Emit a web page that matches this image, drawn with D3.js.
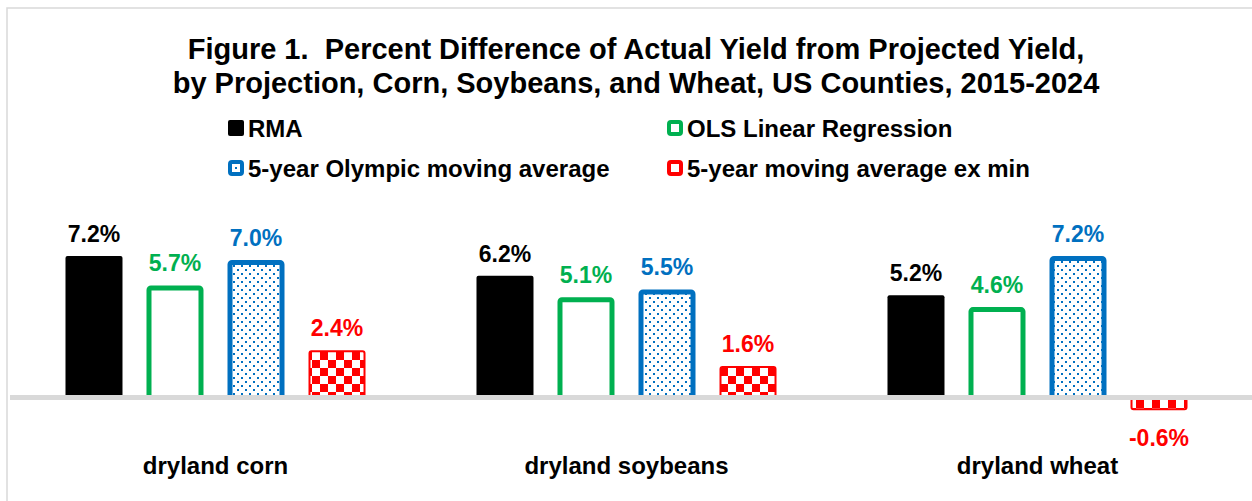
<!DOCTYPE html>
<html>
<head>
<meta charset="utf-8">
<script src="https://cdn.jsdelivr.net/npm/d3@7"></script>
<style>
  body { margin: 0; background: #fff; }
  svg text { font-family: Arial, "Liberation Sans", sans-serif; font-weight: bold; white-space: pre; }
</style>
</head>
<body>
<svg id="chart" width="1252" height="501"></svg>
<script>
// data
var categories = ["dryland corn", "dryland soybeans", "dryland wheat"];
var series = ["RMA", "OLS Linear Regression", "5-year Olympic moving average", "5-year moving average ex min"];
var rmaValues = [7.2, 6.2, 5.2];
var olsValues = [5.7, 5.1, 4.6];
var olympicValues = [7.0, 5.5, 7.2];
var exMinValues = [2.4, 1.6, -0.6];
var titleLines = ["Figure 1.  Percent Difference of Actual Yield from Projected Yield,",
                  "by Projection, Corn, Soybeans, and Wheat, US Counties, 2015-2024"];

var allValues = [rmaValues, olsValues, olympicValues, exMinValues];
var colors = ["#000000", "#00b050", "#0070c0", "#ff0000"];

var svg = d3.select("#chart");
var W = 1252, H = 501;

// pattern defs
var defs = svg.append("defs");
var dots = defs.append("pattern").attr("id", "dots")
    .attr("patternUnits", "userSpaceOnUse").attr("width", 8).attr("height", 8);
dots.append("rect").attr("width", 8).attr("height", 8).attr("fill", "#fff");
dots.append("rect").attr("x", 1).attr("y", 1).attr("width", 2).attr("height", 2).attr("fill", "#0070c0");
dots.append("rect").attr("x", 5).attr("y", 5).attr("width", 2).attr("height", 2).attr("fill", "#0070c0");

var checks = defs.append("pattern").attr("id", "checks")
    .attr("patternUnits", "userSpaceOnUse").attr("width", 16).attr("height", 16);
checks.append("rect").attr("width", 16).attr("height", 16).attr("fill", "#fff");
checks.append("rect").attr("width", 8).attr("height", 8).attr("fill", "#ff0000");
checks.append("rect").attr("x", 8).attr("y", 8).attr("width", 8).attr("height", 8).attr("fill", "#ff0000");

var fills = ["#000000", "#ffffff", "url(#dots)", "url(#checks)"];
var strokeW = [0, 5, 5, 2];

// outer frame (only top/left visible)
svg.append("rect").attr("x", 7).attr("y", 8).attr("width", 1300).attr("height", 600)
    .attr("fill", "none").attr("stroke", "#d9d9d9").attr("stroke-width", 1.5);

// title
svg.selectAll(".title").data(titleLines).enter().append("text")
    .attr("class", "title")
    .attr("x", 636).attr("y", function (d, i) { return 59 + i * 34; })
    .attr("text-anchor", "middle").attr("font-size", 29).attr("fill", "#000")
    .text(function (d) { return d; });

// legend
var legendPos = [[228, 120], [667, 120], [228, 160], [667, 160]];
var legendOrder = [0, 1, 2, 3];
var lg = svg.selectAll(".lg").data(legendOrder).enter().append("g")
    .attr("transform", function (d) { return "translate(" + legendPos[d][0] + "," + legendPos[d][1] + ")"; });
lg.append("rect")
    .attr("x", function (d) { return d == 0 ? 0 : 2; })
    .attr("y", function (d) { return d == 0 ? 0 : 2; })
    .attr("width", function (d) { return d == 0 ? 16 : 12; })
    .attr("height", function (d) { return d == 0 ? 16 : 12; })
    .attr("rx", 2)
    .attr("fill", function (d) { return d == 0 ? "#000" : "#fff"; })
    .attr("stroke", function (d) { return colors[d]; })
    .attr("stroke-width", function (d) { return d == 0 ? 0 : 4; });
lg.filter(function (d) { return d == 2; }).append("rect")
    .attr("x", 7).attr("y", 7).attr("width", 2).attr("height", 2).attr("fill", "#0070c0");
lg.append("text").attr("x", 20).attr("y", 17).attr("font-size", 24).attr("fill", "#000")
    .text(function (d) { return series[d]; });

// scales
var x0 = d3.scaleBand().domain(categories).range([10, 1243]);
var x1 = d3.scaleBand().domain(series).range([0, x0.bandwidth()])
    .paddingInner(24 / 81).paddingOuter(0.685);
var y = d3.scaleLinear().domain([-1, 8]).range([397.5 + 19.65, 397.5 - 8 * 19.65]);

var rows = [];
categories.forEach(function (c, ci) {
    series.forEach(function (s, si) {
        rows.push({cat: c, ser: s, si: si, v: allValues[si][ci]});
    });
});

var g = svg.append("g");
g.selectAll("rect.bar").data(rows).enter().append("rect")
    .attr("class", "bar")
    .attr("x", function (d) { return x0(d.cat) + x1(d.ser) + strokeW[d.si] / 2; })
    .attr("width", function (d) { return x1.bandwidth() - strokeW[d.si]; })
    .attr("y", function (d) { return Math.min(y(d.v), y(0)) + strokeW[d.si] / 2; })
    .attr("height", function (d) { return Math.abs(y(d.v) - y(0)) - strokeW[d.si] / 2; })
    .attr("rx", 2)
    .attr("fill", function (d) { return fills[d.si]; })
    .attr("stroke", function (d) { return d.si == 0 ? "none" : colors[d.si]; })
    .attr("stroke-width", function (d) { return strokeW[d.si]; });

// zero axis line
svg.append("line").attr("x1", 10).attr("x2", W).attr("y1", y(0)).attr("y2", y(0))
    .attr("stroke", "#d9d9d9").attr("stroke-width", 5);

// value labels
g.selectAll("text.val").data(rows).enter().append("text")
    .attr("class", "val")
    .attr("x", function (d) { return x0(d.cat) + x1(d.ser) + x1.bandwidth() / 2; })
    .attr("y", function (d) { return d.v >= 0 ? y(d.v) - 14 : y(d.v) + 37; })
    .attr("text-anchor", "middle").attr("font-size", 23)
    .attr("fill", function (d) { return colors[d.si]; })
    .text(function (d) { return d.v.toFixed(1) + "%"; });

// category labels
svg.selectAll("text.cat").data(categories).enter().append("text")
    .attr("class", "cat")
    .attr("x", function (d) { return x0(d) + x0.bandwidth() / 2; })
    .attr("y", 474)
    .attr("text-anchor", "middle").attr("font-size", 24).attr("fill", "#000")
    .text(function (d) { return d; });
</script>
</body>
</html>
